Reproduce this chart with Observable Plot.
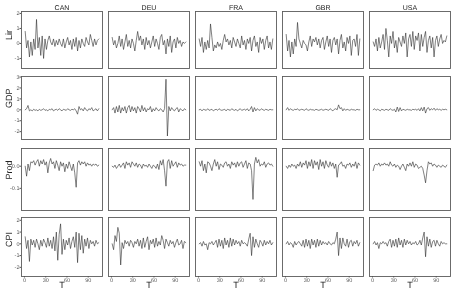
<!DOCTYPE html>
<html>
<head>
<meta charset="utf-8">
<script src="https://cdn.jsdelivr.net/npm/d3@7"></script>
<script src="https://cdn.jsdelivr.net/npm/@observablehq/plot@0.6"></script>
<style>
  html, body { margin: 0; padding: 0; background: #fff; }
  #chart { width: 455px; height: 293px; overflow: hidden; background: #fff; }
  #chart svg { display: block; will-change: transform; }
  #chart svg text { text-rendering: geometricPrecision; }
</style>
</head>
<body>
<div id="chart"></div>
<script>
const countries = ["CAN", "DEU", "FRA", "GBR", "USA"];
const variables = ["Lir", "GDP", "Prod", "CPI"];
const xTitle = "T";
const T = [1,3,5,7,9,11,13,15,17,19,21,23,25,27,29,31,33,35,37,39,41,43,45,47,49,51,53,55,57,59,61,63,65,67,69,71,73,75,77,79,81,83,85,87,89,91,93,95,97,99,101,103,105];
const xTicks = [0, 30, 60, 90];

const lir_CAN = [0.8,-0.3,0.2,-0.9,0.1,-0.8,0.3,-0.4,1.6,-0.3, 0.4,-0.8,0.5,-1.0,0.3,-0.4,0.2,0.5,0.1,-0.1, 0.3,-0.2,0.2,-0.1,0.3,0.0,-0.2,0.3,-0.3,0.1, 0.4,-0.1,0.2,-0.4,0.3,-0.2,0.4,-0.5,0.2,-0.3, 0.3,0.0,-0.2,0.4,0.1,-0.1,0.6,0.2,-0.2,0.3, -0.1,0.2,0.3];
const lir_DEU = [0.4,-0.1,0.2,-0.3,0.0,0.5,-0.2,0.3,-0.4,0.1, 0.6,-0.2,0.2,-0.3,0.3,0.0,-0.5,0.2,0.8,0.2, 0.5,-0.1,0.3,-0.4,0.4,-0.1,0.2,-0.3,0.1,0.5, -0.2,0.3,0.0,-0.4,0.4,0.6,-0.1,0.2,-0.7,0.3, -0.2,0.5,-0.6,0.1,0.3,-0.3,0.4,0.0,0.2,-0.2, 0.1,0.0,0.1];
const lir_FRA = [0.3,-0.2,0.4,-0.6,0.1,-0.4,0.2,-0.3,1.3,0.4, -0.5,-0.1,-0.3,0.1,-0.2,0.0,-0.4,0.2,0.6,0.1, 0.3,-0.1,0.2,-0.3,0.4,0.1,-0.2,0.3,0.0,-0.3, 0.5,-0.1,0.2,-0.4,0.3,0.0,0.4,-0.5,0.2,0.5, -0.2,0.1,-0.6,0.4,0.0,0.3,-0.4,0.2,0.5,-0.3, 0.1,-0.4,0.3];
const lir_GBR = [0.6,-0.5,0.2,-0.9,0.1,-0.7,0.3,-0.2,1.4,0.3, 0.0,-0.3,0.2,0.0,-0.1,-0.5,0.1,0.5,-0.2,0.3, 0.1,0.4,-0.1,0.3,-0.3,0.2,0.4,-0.4,0.1,0.5, -0.2,0.3,-0.6,0.2,0.4,-0.1,0.3,-0.7,0.2,0.6, -0.3,0.1,-0.5,0.4,0.0,0.5,-0.8,0.2,0.3,-0.2, 0.6,-0.8,0.3];
const lir_USA = [0.1,-0.2,0.3,-0.5,0.4,-0.3,0.1,0.6,-0.4,1.0, 0.2,-0.9,0.5,0.0,0.8,-0.3,0.2,-0.6,0.4,0.1, -0.2,0.5,0.0,0.7,-0.9,0.3,0.6,-0.2,0.8,-0.4, 0.5,0.2,0.7,-0.5,0.6,-0.2,0.4,0.8,-0.6,0.2, 0.5,-0.3,0.4,-0.9,0.2,0.5,-0.2,0.3,0.6,0.0, 0.2,0.1,0.5];

const gdp_CAN = [0.0,0.1,0.4,-0.1,0.0,-0.1,0.05,-0.05,0.0,-0.1, 0.05,-0.05,0.0,0.1,-0.05,0.0,-0.1,0.05,0.0,0.1, -0.1,0.0,0.05,-0.05,0.1,0.0,-0.1,0.05,0.0,-0.05, 0.1,0.0,-0.05,0.05,0.0,0.1,-0.1,-0.4,0.3,0.0, 0.1,-0.1,0.2,0.0,-0.1,0.1,0.0,0.2,-0.1,0.0, 0.1,-0.1,0.1];
const gdp_DEU = [0.0,0.2,-0.3,0.3,-0.2,0.4,-0.3,0.2,-0.1,0.3, -0.3,0.2,0.4,-0.2,0.3,-0.1,0.2,-0.3,0.3,0.1, -0.2,0.4,-0.1,0.2,-0.2,0.1,0.0,0.3,-0.2,0.1, -0.1,0.2,0.0,-0.1,0.1,0.0,-0.2,0.1,2.8,-2.4, 0.3,-0.1,0.2,0.0,-0.1,0.1,0.2,-0.2,0.1,0.0, -0.1,0.1,0.0];
const gdp_FRA = [0.0,0.05,-0.1,0.05,0.0,-0.05,0.1,-0.05,0.0,0.05, -0.1,0.0,0.05,-0.05,0.1,0.0,-0.05,0.0,0.05,-0.1, 0.05,0.0,-0.05,0.1,0.0,-0.05,0.05,-0.1,0.0,0.1, -0.05,0.0,0.05,-0.05,0.1,-0.1,0.05,0.3,-0.2,0.2, -0.1,0.1,0.0,-0.05,0.1,0.0,-0.05,0.05,0.0,-0.05, 0.05,0.0,0.0];
const gdp_GBR = [0.0,0.2,-0.05,0.1,0.0,-0.05,0.05,0.0,0.1,-0.05, 0.0,0.05,0.0,-0.05,0.1,0.0,-0.05,0.05,0.0,0.0, -0.05,0.05,0.0,-0.05,0.0,0.05,-0.05,0.0,0.05,0.0, -0.05,0.1,0.0,-0.1,0.05,0.1,0.0,0.45,0.1,0.2, -0.1,0.1,-0.05,0.05,0.0,-0.05,0.05,0.0,0.0,-0.05, 0.05,0.0,0.0];
const gdp_USA = [0.0,0.1,-0.05,0.05,0.0,-0.1,0.05,0.0,-0.05,0.05, 0.0,-0.05,0.1,0.0,-0.05,0.05,-0.2,0.25,-0.15,0.2, -0.1,0.05,0.0,-0.05,0.05,0.0,0.0,-0.05,0.05,0.0, 0.05,-0.05,0.1,-0.1,0.2,-0.1,0.25,-0.3,0.1,0.2, -0.05,0.1,0.0,0.15,-0.05,0.1,0.0,0.05,-0.05,0.05, 0.0,0.05,0.0];

const prod_CAN = [0.0,-0.045,0.01,-0.02,0.02,0.015,0.025,0.005,0.02,0.03, 0.0,0.025,0.01,0.03,0.005,0.02,-0.03,0.015,0.035,0.01, 0.02,-0.01,0.025,0.005,-0.02,0.02,0.0,0.015,-0.025,0.01, -0.01,0.02,0.0,-0.02,0.01,-0.03,-0.095,0.015,0.025,0.005, 0.02,0.01,0.02,0.0,0.015,0.005,0.01,0.0,0.01,0.005, 0.01,0.0,0.005];
const prod_DEU = [0.0,-0.005,0.005,-0.01,0.0,0.01,-0.005,0.005,0.015,-0.01, 0.02,0.005,0.015,-0.005,0.02,0.01,0.0,0.015,-0.005,0.01, 0.005,-0.01,0.01,0.0,0.005,-0.005,0.01,0.0,-0.01,0.005, 0.0,-0.01,0.01,-0.015,0.025,0.005,0.03,-0.02,-0.09,0.02, 0.03,-0.01,0.025,0.0,0.01,0.02,-0.005,0.015,0.005,0.01, 0.0,0.005,0.005];
const prod_FRA = [0.02,0.0,0.025,-0.02,0.01,-0.03,0.02,0.015,0.0,-0.02, 0.01,0.03,0.0,0.02,-0.015,0.01,0.005,-0.005,0.015,0.02, 0.0,0.01,-0.01,0.02,0.005,0.015,-0.005,0.02,0.0,0.015, 0.02,-0.005,0.01,0.025,-0.01,0.015,0.01,-0.02,-0.15,0.01, 0.04,0.015,0.03,0.0,0.01,0.005,0.02,-0.005,0.01,0.015, 0.005,0.01,0.0];
const prod_GBR = [0.0,-0.01,0.005,-0.005,0.01,0.0,0.005,-0.01,0.01,0.0, 0.02,-0.005,0.015,0.005,0.025,-0.01,0.02,0.0,0.03,-0.01, 0.025,0.005,0.02,-0.015,0.03,0.0,0.02,-0.01,0.025,0.005, -0.005,0.02,0.0,0.015,-0.01,0.01,-0.05,0.005,0.01,0.02, 0.0,0.005,-0.01,0.01,0.005,0.015,-0.005,0.01,0.0,0.02, -0.01,0.015,0.005];
const prod_USA = [-0.02,0.005,0.01,0.005,0.015,0.0,0.01,0.005,0.015,0.005, 0.01,0.0,0.02,0.005,0.0,0.01,-0.005,0.005,0.0,-0.015, 0.0,0.01,-0.005,-0.02,0.01,0.0,0.015,0.0,0.02,-0.005, 0.01,0.005,-0.01,-0.005,0.0,-0.01,-0.04,-0.075,-0.02,0.02, 0.01,0.015,0.0,0.01,0.005,-0.005,0.005,0.0,-0.005,0.005, 0.0,-0.005,0.005];

const cpi_CAN = [0.6,-0.4,0.3,-1.5,0.4,-0.1,0.3,-0.3,0.4,0.0, -0.5,0.3,-0.2,0.4,0.1,-0.3,0.5,-0.2,0.3,-0.4, 0.6,-0.6,1.0,-1.4,0.8,1.7,-0.9,0.4,-0.5,0.3, -0.1,0.5,-0.4,0.2,0.6,-0.3,1.0,-1.6,0.9,-0.5, 0.7,-0.8,0.4,-0.2,0.5,-0.4,0.3,0.0,0.2,-0.2, 0.3,0.0,0.1];
const cpi_DEU = [0.0,-0.5,0.7,0.2,1.4,0.9,-1.8,0.1,-0.4,0.3, 0.0,0.2,-0.2,0.3,0.1,-0.3,0.2,0.0,0.4,-0.2, 0.3,-0.4,0.5,-0.3,0.2,0.6,-0.5,0.3,0.0,0.4, -0.3,0.5,-0.2,0.2,-0.1,0.7,0.3,-0.4,0.4,0.1, -0.2,0.3,0.0,0.2,-0.3,0.1,0.4,-0.1,0.0,0.3, -0.4,0.2,0.1];
const cpi_FRA = [0.0,0.1,-0.2,0.2,-0.1,0.0,-0.5,0.1,0.0,0.2, -0.1,0.1,0.3,-0.3,0.4,-0.2,0.3,-0.4,0.5,-0.1, 0.3,-0.3,0.5,-0.2,0.4,-0.1,0.3,0.0,0.2,-0.2, 0.3,0.0,0.1,0.0,-0.2,0.4,0.9,-1.0,0.6,-0.3, 0.4,0.0,-0.3,0.3,0.1,-0.2,0.3,-0.1,0.2,0.0, 0.3,-0.1,0.1];
const cpi_GBR = [0.0,0.2,-0.1,0.1,0.0,-0.3,0.2,-0.1,0.1,0.2, 0.0,-0.2,0.3,-0.3,0.4,-0.2,0.3,-0.4,0.4,-0.1, 0.3,-0.3,0.4,-0.2,0.3,-0.1,0.2,0.0,0.1,-0.1, 0.2,0.0,-0.1,0.1,0.0,0.4,1.0,-1.0,0.5,-0.4, 0.5,0.0,-0.2,0.4,-0.3,0.2,0.3,-0.2,0.2,0.0, 0.3,-0.2,0.1];
const cpi_USA = [0.0,0.2,-0.1,0.1,-0.4,0.1,0.0,0.2,0.0,0.1, -0.2,0.2,0.4,-0.3,0.3,-0.2,0.4,-0.3,0.5,-0.1, 0.3,-0.3,0.4,-0.1,0.3,0.0,0.2,-0.1,0.1,0.0, 0.2,-0.1,0.0,0.3,-0.1,0.5,1.0,-1.1,0.6,-0.2, 0.4,-0.3,0.2,0.3,-0.2,0.3,0.0,-0.2,0.2,0.0, 0.1,0.0,0.0];

const lirTicks = [-1, 0, 1, 2];
const gdpTicks = [-2, -1, 0, 1, 2, 3];
const prodTicks = [-0.1, 0.0];
const cpiTicks = [-2, -1, 0, 1, 2];

const series = {
  Lir: {CAN: lir_CAN, DEU: lir_DEU, FRA: lir_FRA, GBR: lir_GBR, USA: lir_USA},
  GDP: {CAN: gdp_CAN, DEU: gdp_DEU, FRA: gdp_FRA, GBR: gdp_GBR, USA: gdp_USA},
  Prod: {CAN: prod_CAN, DEU: prod_DEU, FRA: prod_FRA, GBR: prod_GBR, USA: prod_USA},
  CPI: {CAN: cpi_CAN, DEU: cpi_DEU, FRA: cpi_FRA, GBR: cpi_GBR, USA: cpi_USA}
};
const yTicks = {Lir: lirTicks, GDP: gdpTicks, Prod: prodTicks, CPI: cpiTicks};
const yDomain = {Lir: [-1.67, 2.13], GDP: [-2.72, 3.05], Prod: [-0.2, 0.08], CPI: [-2.78, 2.24]};
const yFormat = {Lir: d => String(d), GDP: d => String(d), Prod: d => d.toFixed(1), CPI: d => String(d)};

// layout of each row: [height, marginTop, marginBottom]
const rowLayout = {Lir: [72, 11, 4], GDP: [71, 4, 4], Prod: [70, 5, 3], CPI: [80, 4, 17]};

const font = "'Liberation Sans', Arial, Helvetica, sans-serif";
const chart = document.getElementById("chart");

const stripLabels = countries.map(c => ({country: c, label: c}));
const xTitles = countries.map(c => ({country: c, label: xTitle}));

variables.forEach((v, r) => {
  const data = countries.flatMap(c => series[v][c].map((val, i) => ({country: c, T: T[i], value: val})).filter(d => d.T !== undefined));
  const [h, mt, mb] = rowLayout[v];
  const marks = [
    Plot.frame({stroke: "#5c5c5c", strokeWidth: 0.9}),
    Plot.line(data, {fx: "country", x: "T", y: "value", stroke: "#2b2b2b", strokeWidth: 0.6}),
    Plot.axisY({ticks: yTicks[v], tickFormat: yFormat[v], tickSize: 1.5, tickPadding: 0.5, fontSize: 5.5, fill: "#555", stroke: "#555", label: null}),
    Plot.text([{country: "CAN", label: v}], {fx: "country", text: "label", frameAnchor: "left", dx: -12, rotate: -90, fontSize: 9, fill: "#222"})
  ];
  if (r === 0) {
    marks.push(Plot.text(stripLabels, {fx: "country", text: "label", frameAnchor: "top", dy: -6, fontSize: 7, fill: "#222"}));
  }
  if (r === variables.length - 1) {
    marks.push(Plot.axisX({ticks: xTicks, tickFormat: d => String(d), tickSize: 1.5, tickPadding: 0.5, fontSize: 5.5, fill: "#555", stroke: "#555", label: null}));
    marks.push(Plot.text(xTitles, {fx: "country", text: "label", frameAnchor: "bottom", dy: 11, fontSize: 9, fill: "#222"}));
  }
  const svg = Plot.plot({
    width: 455,
    height: h,
    marginLeft: 19,
    marginRight: 3,
    marginTop: mt,
    marginBottom: mb,
    style: {fontFamily: font, background: "transparent", overflow: "visible"},
    x: {domain: [-4.2, 110.2], axis: null},
    y: {domain: yDomain[v], axis: null},
    fx: {domain: countries, paddingInner: 0.068, paddingOuter: 0, axis: null},
    marks
  });
  chart.appendChild(svg);
});
</script>
</body>
</html>
